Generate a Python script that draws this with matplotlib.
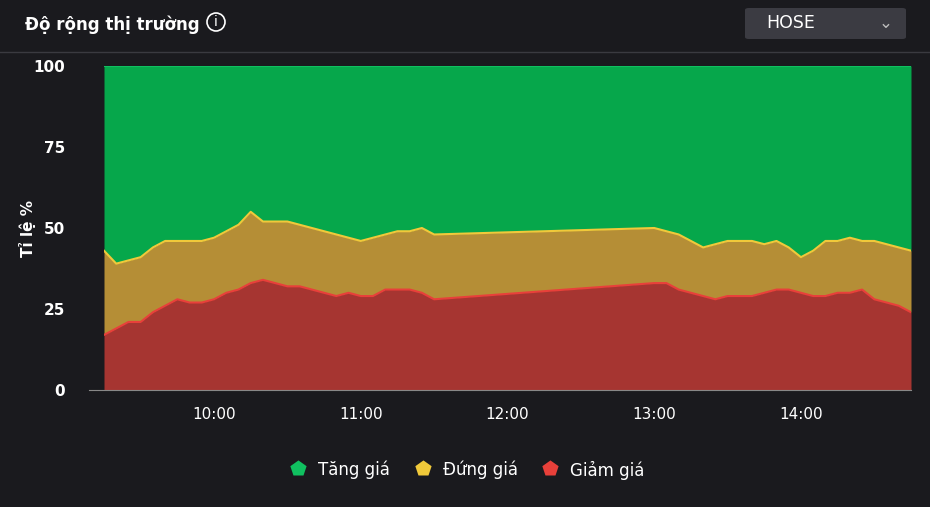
import matplotlib
matplotlib.use("Agg")
import matplotlib.pyplot as plt
from matplotlib.patches import FancyBboxPatch, Ellipse
import numpy as np

times = ["09:15","09:20","09:25","09:30","09:35","09:40","09:45","09:50","09:55","10:00","10:05","10:10","10:15","10:20","10:25","10:30","10:35","10:40","10:45","10:50","10:55","11:00","11:05","11:10","11:15","11:20","11:25","11:30",
         "13:00","13:05","13:10","13:15","13:20","13:25","13:30","13:35","13:40","13:45","13:50","13:55","14:00","14:05","14:10","14:15","14:20","14:25","14:30","14:35","14:40","14:45"]
giam = [17,19,21,21,24,26,28,27,27,28,30,31,33,34,33,32,32,31,30,29,30,29,29,31,31,31,30,28,
        33,33,31,30,29,28,29,29,29,30,31,31,30,29,29,30,30,31,28,27,26,24]
dung_top = [43,39,40,41,44,46,46,46,46,47,49,51,55,52,52,52,51,50,49,48,47,46,47,48,49,49,50,48,
            50,49,48,46,44,45,46,46,46,45,46,44,41,43,46,46,47,46,46,45,44,43]

def tmin(s):
    h, m = map(int, s.split(":"))
    return h * 60 + m
x = np.array([tmin(t) for t in times], float)
g = np.array(giam, float)
d = np.array(dung_top, float)

bg = "#1a1a1e"
fig = plt.figure(figsize=(9.3, 5.07), dpi=100, facecolor=bg)
W, H = 930, 507
ax = fig.add_axes([104/W, 1-390/H, (911-104)/W, (390-66)/H], facecolor=bg)
ax.fill_between(x, d, 100, color="#06a74b", lw=0)
ax.fill_between(x, g, d, color="#b58e36", lw=0)
ax.fill_between(x, 0, g, color="#a63531", lw=0)
ax.plot(x, d, color="#f0c93a", lw=1.5)
ax.plot(x, g, color="#e8403a", lw=1.5)
ax.plot(x, np.full_like(x, 100), color="#10c060", lw=1.5)
ax.set_xlim(x[0], x[-1])
ax.set_ylim(0, 100)
ax.set_yticks([0, 25, 50, 75, 100])
ticks = ["10:00","11:00","12:00","13:00","14:00"]
ax.set_xticks([tmin(t) for t in ticks])
ax.set_xticklabels(ticks)
ax.tick_params(colors="white", labelsize=11, length=0, pad=12)
ax.tick_params(axis="y", pad=28)
for lbl in ax.get_yticklabels():
    lbl.set_fontweight("bold")
for s in ax.spines.values():
    s.set_visible(False)
ax.spines["bottom"].set_visible(True)
ax.spines["bottom"].set_color("#888888")
ax.spines["bottom"].set_bounds(x[0] - 6, x[-1])
ax.spines["bottom"].set_position(("data", 0))
fig.text(27/W, 1-228/H, "Tỉ lệ %", rotation=90, color="white", fontsize=11, fontweight="bold", ha="center", va="center")

fig.text(25/W, 1-25/H, "Độ rộng thị trường", color="white", fontsize=12, fontweight="bold", va="center")
fig.add_artist(Ellipse((216/W, 1-22/H), 18/W, 18/H, transform=fig.transFigure,
                       facecolor="none", edgecolor="white", lw=1.2))
fig.text(216/W, 1-22/H, "i", color="white", fontsize=10, va="center", ha="center")
fig.add_artist(plt.Line2D([0, 1], [1-52/H, 1-52/H], color="#3a3a40", lw=1))
box = FancyBboxPatch((745/W, 1-39/H), 161/W, 31/H, boxstyle="round,pad=0,rounding_size=0.004",
                     transform=fig.transFigure, facecolor="#3b3b42", edgecolor="none")
fig.add_artist(box)
fig.text(766/W, 1-23/H, "HOSE", color="white", fontsize=12.5, va="center")
fig.text(886/W, 1-23/H, "⌄", color="#bbbbbb", fontsize=12, va="center", ha="center")

items = [("Tăng giá", "#10c060", 290), ("Đứng giá", "#f0c93a", 415), ("Giảm giá", "#e8403a", 542)]
for lab, c, px in items:
    fig.text(px/W, 1-470/H, "\u2b1f", color=c, fontsize=14, va="center", ha="left", family=["DejaVu Sans"])
    fig.text((px+28)/W, 1-470/H, lab, color="white", fontsize=12, va="center")

fig.savefig("out.png", dpi=100, facecolor=bg)
